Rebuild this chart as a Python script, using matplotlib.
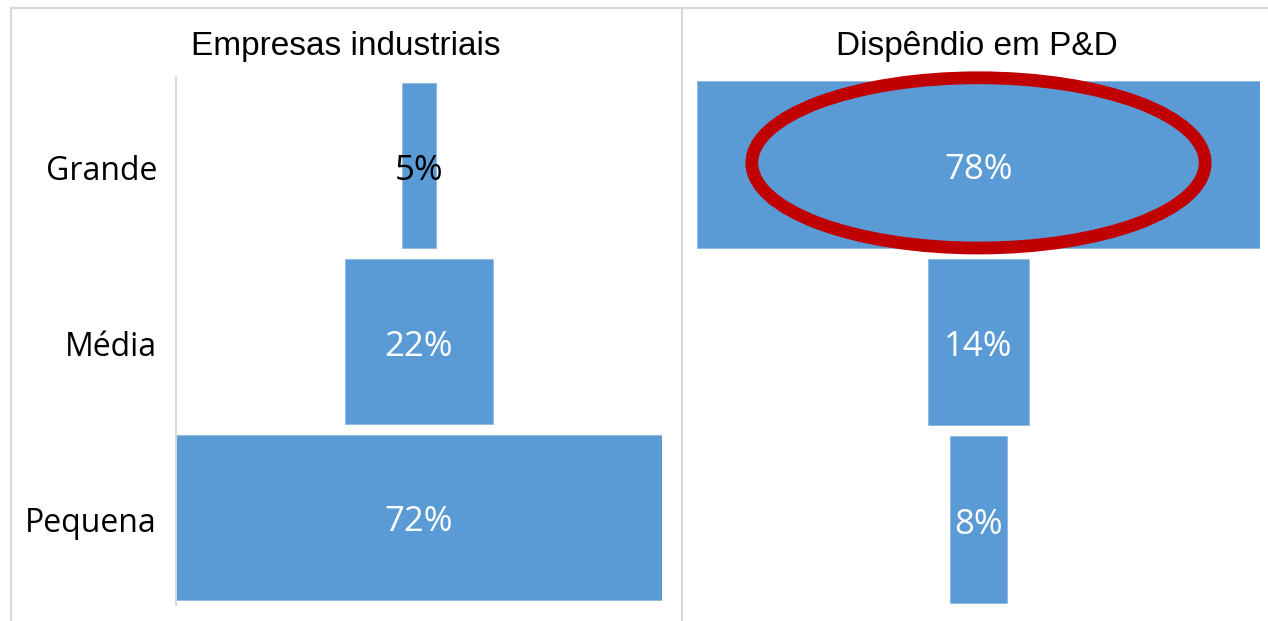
import matplotlib.pyplot as plt
from matplotlib.patches import Ellipse
from matplotlib.lines import Line2D

plt.rcParams['font.family'] = ['Open Sans', 'DejaVu Sans']

categories = ['Grande', 'Média', 'Pequena']
empresas = [5, 22, 72]
dispendio = [78, 14, 8]
label_colors_emp = ['black', 'white', 'white']
label_colors_disp = ['white', 'white', 'white']

bar_color = '#5B9BD5'
grid_gray = '#d9d9d9'

W, H = 1268, 621
fig = plt.figure(figsize=(W / 100, H / 100), dpi=100)


def px_box(x0, x1, y0, y1):
    # pixel rectangle (top-left origin) -> figure fraction box
    return [x0 / W, 1 - y1 / H, (x1 - x0) / W, (y1 - y0) / H]


def funnel(ax, values, colors):
    ypos = range(len(values))
    half = max(values) / 2
    lefts = [-v / 2 for v in values]
    ax.barh(ypos, values, left=lefts, height=0.94, color=bar_color,
            edgecolor='#8db8e3', linewidth=0.6)
    for y, v, c in zip(ypos, values, colors):
        ax.text(0, y + 0.03, f'{v}%', ha='center', va='center', fontsize=25,
                color=c)
    ax.set_xlim(-half, half)
    ax.set_ylim(len(values) - 0.5, -0.5)
    ax.set_xticks([])
    ax.set_yticks([])
    for s in ax.spines.values():
        s.set_visible(False)
    ax.patch.set_alpha(0)


ax1 = fig.add_axes(px_box(176, 662, 78, 605))
funnel(ax1, empresas, label_colors_emp)
ax1.spines['left'].set_visible(True)
ax1.spines['left'].set_color(grid_gray)
ax1.spines['left'].set_linewidth(1.5)
for y, c in enumerate(categories):
    fig.text(157 / W, 1 - (171 + 176 * y) / H, c, ha='right', va='center',
             fontsize=23)

ax2 = fig.add_axes(px_box(697, 1260, 76, 608))
funnel(ax2, dispendio, label_colors_disp)

# red ring around the largest share of spending
ring = Ellipse((0, -0.01), width=62.8, height=0.96, fill=False,
               edgecolor='#C00000', linewidth=9.2, clip_on=False)
ax2.add_patch(ring)

fig.text(346 / W, 1 - 46 / H, 'Empresas industriais', ha='center',
         va='center', fontsize=24, family=['Liberation Sans', 'DejaVu Sans'])
fig.text(977 / W, 1 - 46 / H, 'Dispêndio em P&D', ha='center',
         va='center', fontsize=24, family=['Liberation Sans', 'DejaVu Sans'])

# outer frame and panel divider
frame_kw = dict(color=grid_gray, linewidth=1.6, transform=fig.transFigure)
fig.add_artist(Line2D([11 / W, 1], [1 - 8 / H, 1 - 8 / H], **frame_kw))
fig.add_artist(Line2D([11 / W, 11 / W], [0, 1 - 8 / H], **frame_kw))
fig.add_artist(Line2D([682 / W, 682 / W], [0, 1 - 8 / H], **frame_kw))

fig.savefig('out.png', dpi=100)
